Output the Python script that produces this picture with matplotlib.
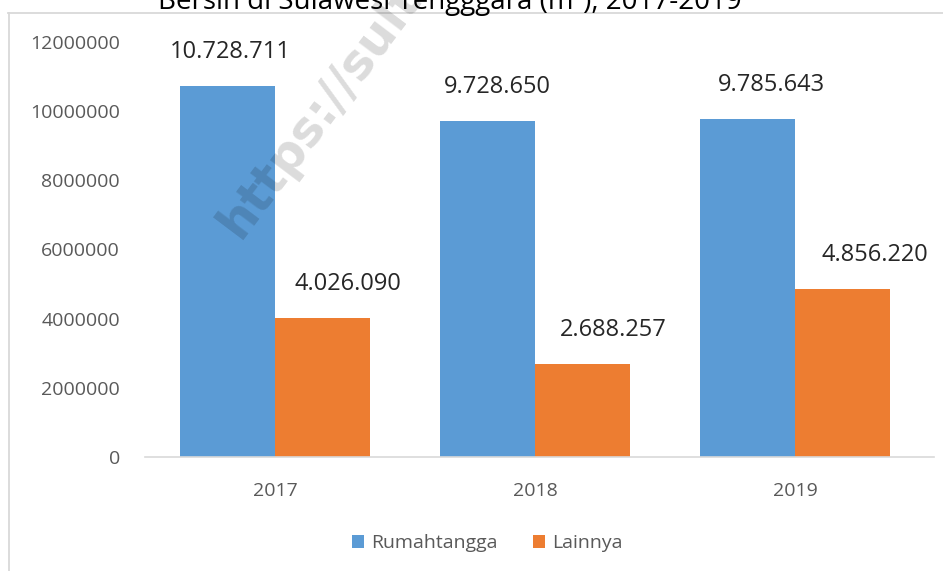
import matplotlib
matplotlib.use("Agg")
import matplotlib.pyplot as plt
from matplotlib.lines import Line2D
from matplotlib.patches import Patch
import numpy as np

years = ["2017", "2018", "2019"]
rumahtangga = [10728711, 9728650, 9785643]
lainnya = [4026090, 2688257, 4856220]
series_names = ["Rumahtangga", "Lainnya"]
yticks = [0, 2000000, 4000000, 6000000, 8000000, 10000000, 12000000]
title = "Bersih di Sulawesi Tengggara (m\u00b3), 2017-2019"
watermark = "https://sultra.bps.go.id"

BLUE = "#5B9BD5"
ORANGE = "#ED7D31"
GRAY_TXT = "#595959"
LABEL_TXT = "#262626"

plt.rcParams['font.family'] = ['Open Sans', 'DejaVu Sans']

W, H = 943, 571
fig = plt.figure(figsize=(W / 100, H / 100), dpi=100)
ax = fig.add_axes([145 / W, (H - 457) / H, (934 - 145) / W, (457 - 42) / H])

x = np.arange(len(years))
bw = 0.365
b1 = ax.bar(x - bw / 2, rumahtangga, bw, color=BLUE, zorder=2)
b2 = ax.bar(x + bw / 2, lainnya, bw, color=ORANGE, zorder=2)

ax.set_xlim(-0.5, 2.535)
ax.set_ylim(0, 12000000)
ax.set_yticks(yticks)
ax.set_yticklabels([str(v) for v in yticks])
ax.set_xticks(x)
ax.set_xticklabels(years)
ax.tick_params(axis='y', length=0, pad=18, labelsize=14, labelcolor=GRAY_TXT)
ax.tick_params(axis='x', length=0, pad=18, labelsize=14, labelcolor=GRAY_TXT)
for s in ['top', 'right', 'left']:
    ax.spines[s].set_visible(False)
ax.spines['bottom'].set_color('#D9D9D9')
ax.spines['bottom'].set_linewidth(1.2)


def fmt(v):
    return f"{v:,}".replace(",", ".")

# label offsets in pixels (manually positioned labels in the original)
off_blue = [3, 10, 24]
off_orange = [26, 31, 33]
for i in range(len(years)):
    ax.annotate(fmt(rumahtangga[i]), (x[i] - bw / 2, rumahtangga[i]),
                xytext=(off_blue[i] * 0.72, 34 * 0.72), textcoords='offset points',
                ha='center', va='center', fontsize=17, color=LABEL_TXT, zorder=5)
    ax.annotate(fmt(lainnya[i]), (x[i] + bw / 2, lainnya[i]),
                xytext=(off_orange[i] * 0.72, 34 * 0.72), textcoords='offset points',
                ha='center', va='center', fontsize=17, color=LABEL_TXT, zorder=5)

# watermark
fig.text(240 / W, 1 - 240 / H, watermark, rotation=53, rotation_mode='anchor',
         ha='left', va='baseline', fontsize=35, fontweight='bold',
         family=['DejaVu Sans'], color='black', alpha=0.14, zorder=10)

# title (partly cut off at the top, as in the original)
fig.text(450 / W, 1 - 9 / H, title, ha='center', va='baseline', fontsize=20, color='black')

# frame lines
fig.add_artist(Line2D([8 / W, 1], [1 - 12.5 / H, 1 - 12.5 / H], color='#D9D9D9', lw=1.3))
fig.add_artist(Line2D([8.5 / W, 8.5 / W], [0, 1 - 12.5 / H], color='#D9D9D9', lw=1.3))

handles = [Patch(facecolor=BLUE), Patch(facecolor=ORANGE)]
leg = fig.legend(handles, series_names, loc='center', bbox_to_anchor=(487 / W, 1 - 543 / H),
                 ncol=2, frameon=False, fontsize=14, handlelength=0.65, handleheight=0.65,
                 handletextpad=0.35, columnspacing=1.8)
for t in leg.get_texts():
    t.set_color(GRAY_TXT)

fig.savefig("out.png", dpi=100)
